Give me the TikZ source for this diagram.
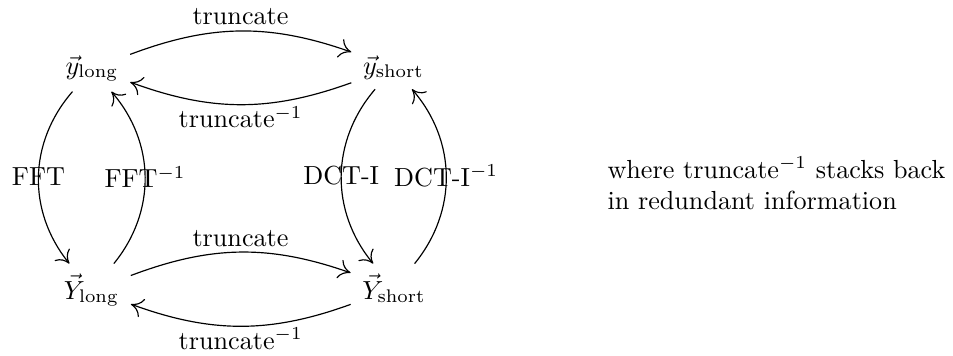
\documentclass[tikz,border=0pt]{standalone}
\usepackage{amsmath}
\usetikzlibrary{arrows.meta,positioning,calc}
\tikzset{
  cell/.style={inner xsep=1ex, inner ysep=0.85ex, anchor=base},
  arr/.style={-{To[length=1.6mm,width=2.6mm]}, line width=0.45pt},
  lab/.style={inner sep=2pt},
  labbelow/.style={inner sep=0.5pt, below},
}
\begin{document}
\begin{tikzpicture}
  \useasboundingbox (0,0) rectangle (12.81,-4.785);
  \node[cell] (yl) at (1.237,-0.995) {$\vec{y}_{\mathrm{long}}$};
  \node[cell] (ys) at (5.289,-0.995) {$\vec{y}_{\mathrm{short}}$};
  \node[cell] (Yl) at (1.230,-4.019) {$\vec{Y}_{\mathrm{long}}$};
  \node[cell] (Ys) at (5.296,-4.019) {$\vec{Y}_{\mathrm{short}}$};
  % truncations
  \draw[arr] (yl) to[bend left=20] node[lab, above] {truncate} (ys);
  \draw[arr] (ys) to[bend left=20] node[labbelow] {truncate$^{-1}$} (yl);
  \draw[arr] (Yl) to[bend left=20] node[lab, above] {truncate} (Ys);
  \draw[arr] (Ys) to[bend left=20] node[labbelow] {truncate$^{-1}$} (Yl);
  % transforms
  \draw[arr] (yl) to[bend right=40] node[lab] {FFT} (Yl);
  \draw[arr] (Yl) to[bend right=40] node[lab] {FFT$^{-1}$} (yl);
  \draw[arr] (ys) to[bend right=40] node[lab] {DCT-I} (Ys);
  \draw[arr] (Ys) to[bend right=40] node[lab] {DCT-I$^{-1}$} (ys);
  \node[align=left, anchor=west, inner sep=0pt] (note) at (8.159,-2.468)
    {where truncate$^{-1}$ stacks back\\in redundant information};
\end{tikzpicture}
\end{document}
